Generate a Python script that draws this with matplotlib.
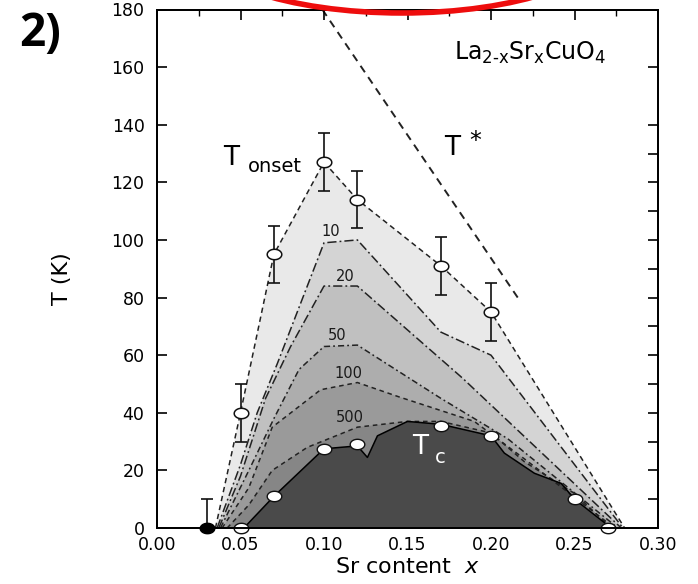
import numpy as np
import matplotlib
matplotlib.use('Agg')
import matplotlib.pyplot as plt
from matplotlib.patches import Ellipse
from matplotlib.path import Path

plt.rcParams['font.family'] = ['DejaVu Sans']

# ---------------- data ----------------
onset_x = [0.05, 0.07, 0.10, 0.12, 0.17, 0.20]
onset_T = [40, 95, 127, 114, 91, 75]
onset_err = [10, 10, 10, 10, 10, 10]

afm_x = [0.03]
afm_T = [0]
afm_err = [10]

tc_pts_x = [0.05, 0.07, 0.10, 0.12, 0.17, 0.20, 0.25, 0.27]
tc_pts_T = [0, 11, 27.5, 29, 35.5, 32, 10, 0]

tonset_x = [0.035, 0.05, 0.07, 0.10, 0.12, 0.17, 0.20, 0.28]
tonset_T = [0, 40, 95, 127, 114, 91, 75, 0]

c10_x = [0.036, 0.05, 0.06, 0.072, 0.10, 0.12, 0.17, 0.20, 0.279]
c10_T = [0, 22, 40, 57, 99, 100, 68, 60, 0]

c20_x = [0.037, 0.05, 0.065, 0.08, 0.10, 0.12, 0.183, 0.278]
c20_T = [0, 18, 45, 63, 84, 84, 52, 0]

c50_x = [0.038, 0.055, 0.07, 0.085, 0.10, 0.12, 0.17, 0.21, 0.276]
c50_T = [0, 20, 38, 55, 63, 63.5, 45, 31, 0]

c100_x = [0.039, 0.055, 0.069, 0.098, 0.12, 0.145, 0.19, 0.22, 0.274]
c100_T = [0, 14, 35, 48, 50.5, 45.5, 37, 24, 0]

c500_x = [0.042, 0.055, 0.069, 0.09, 0.12, 0.15, 0.17, 0.20, 0.22, 0.25, 0.272]
c500_T = [0, 8, 20, 28, 35, 37, 37, 33, 23, 12, 0]

tc_x = [0.052, 0.07, 0.10, 0.12, 0.126, 0.132, 0.15, 0.17, 0.20, 0.208, 0.226, 0.242, 0.25, 0.272]
tc_T = [0, 11, 27.5, 28.5, 24.5, 32, 37, 36, 32, 26, 19, 15.5, 10, 0]

tstar_x = [0.099, 0.216]
tstar_T = [180, 80]

contour_labels = ['10', '20', '50', '100', '500']
contour_label_x = [0.1042, 0.1126, 0.1078, 0.1144, 0.1156]
contour_label_T = [102.8, 87.2, 67.0, 53.8, 38.2]

xticks = [0.00, 0.05, 0.10, 0.15, 0.20, 0.25, 0.30]
xticklabels = ['0.00', '0.05', '0.10', '0.15', '0.20', '0.25', '0.30']
yticks = list(range(0, 181, 20))

# ---------------- figure ----------------
fig = plt.figure(figsize=(6.98, 5.84), dpi=100)
ax = fig.add_axes([157/698, 1-528/584, 501/698, 518.5/584])
ax.set_xlim(0, 0.30)
ax.set_ylim(0, 180)

fills = [
    (tonset_x, tonset_T, '#e9e9e9'),
    (c10_x, c10_T, '#d4d4d4'),
    (c20_x, c20_T, '#c0c0c0'),
    (c50_x, c50_T, '#adadad'),
    (c100_x, c100_T, '#9a9a9a'),
    (c500_x, c500_T, '#868686'),
    (tc_x, tc_T, '#4a4a4a'),
]
for i, (xs, ts, col) in enumerate(fills):
    ax.fill(xs, ts, color=col, lw=0, zorder=1 + i * 0.1)

lk = dict(color='#222222', lw=1.1, zorder=3)
ax.plot(tonset_x, tonset_T, linestyle=(0, (3.5, 2.5)), **lk)
ax.plot(c10_x, c10_T, linestyle=(0, (6, 2, 1.2, 2)), **lk)
ax.plot(c20_x, c20_T, linestyle=(0, (6, 2, 1.2, 2)), **lk)
ax.plot(c50_x, c50_T, linestyle=(0, (4, 2, 1.2, 2)), **lk)
ax.plot(c100_x, c100_T, linestyle=(0, (3, 2.5)), **lk)
ax.plot(c500_x, c500_T, linestyle=(0, (3, 2.5)), **lk)
ax.plot(tc_x, tc_T, color='black', lw=1.1, zorder=3)
ax.plot(tstar_x, tstar_T, color='#222222', lw=1.4, linestyle=(0, (4, 3)), zorder=3)

# elliptical marker
th = np.linspace(0, 2 * np.pi, 41)
ell = Path(np.column_stack([1.4 * np.cos(th), np.sin(th)]), closed=True)

ax.errorbar(onset_x, onset_T, yerr=onset_err, fmt='none', ecolor='#111111',
            elinewidth=1.2, capsize=4.5, capthick=1.2, zorder=4)
ax.plot(onset_x, onset_T, linestyle='none', marker=ell, markersize=10.5,
        mfc='white', mec='#111111', mew=1.1, zorder=5)
ax.errorbar(afm_x, afm_T, yerr=afm_err, fmt='none', ecolor='#111111',
            elinewidth=1.2, capsize=4.5, capthick=1.2, zorder=4)
ax.plot(afm_x, afm_T, linestyle='none', marker=ell, markersize=10.5,
        mfc='black', mec='black', zorder=6, clip_on=False)
ax.plot(tc_pts_x, tc_pts_T, linestyle='none', marker=ell, markersize=10.5,
        mfc='white', mec='#111111', mew=1.0, zorder=5, clip_on=False)

# text inside
for lab, lx, ly in zip(contour_labels, contour_label_x, contour_label_T):
    ax.text(lx, ly, lab, fontsize=10.5, ha='center', va='center', color='#1a1a1a', zorder=6)

ax.text(0.0443, 128.5, 'T', fontsize=19, ha='center', va='center', zorder=6)
ax.text(0.0707, 125.5, 'onset', fontsize=14, ha='center', va='center', zorder=6)
ax.text(0.1766, 132, 'T', fontsize=19, ha='center', va='center', zorder=6)
ax.text(0.1905, 134.5, '*', fontsize=17, ha='center', va='center', zorder=6)
ax.text(0.2234, 165, '$\\mathregular{La_{2\u2010x}Sr_xCuO_4}$', fontsize=17,
        ha='center', va='center', zorder=6)
ax.text(0.1575, 28.1, 'T', fontsize=19, ha='center', va='center', color='white', zorder=6)
ax.text(0.1695, 24.5, 'c', fontsize=14, ha='center', va='center', color='white', zorder=6)

# axes styling
for sp in ax.spines.values():
    sp.set_linewidth(1.2)
ax.set_xticks(xticks)
ax.set_xticklabels(xticklabels)
ax.set_yticks(yticks)
ax.tick_params(axis='x', bottom=True, length=0, pad=6, labelsize=12.5)
ax.tick_params(axis='y', left=True, direction='in', length=7, width=1.2, pad=9, labelsize=12.5)
ax.set_xlabel(r'Sr content  $x$', fontsize=16, labelpad=2)
ax.set_ylabel('T (K)', fontsize=16)
ax.yaxis.set_label_coords(-0.19, 0.48)
ax.yaxis.label.set_va('center')

axr = ax.twinx()
axr.set_ylim(0, 180)
axr.set_yticks(list(range(0, 141, 10)) + [160])
axr.tick_params(axis='y', direction='in', length=7, width=1.2, labelright=False)
axt = ax.twiny()
axt.set_xlim(0, 0.30)
axt.set_xticks(xticks)
axt.set_xticks(np.arange(0.025, 0.30, 0.05), minor=True)
axt.tick_params(axis='x', which='major', direction='in', length=7, width=1.2, labeltop=False)
axt.tick_params(axis='x', which='minor', direction='in', length=4, width=1.0)
for a in (axr, axt):
    for sp in a.spines.values():
        sp.set_linewidth(1.2)

# panel label and red annotation ellipse
fig.text(40/698, 1 - 34/584, '2)', fontsize=33, fontweight='bold', family='Open Sans',
         ha='center', va='center')
red = Ellipse((402, 584 + 60), width=420, height=146, transform=None,
              fill=False, edgecolor='#ee0d0d', lw=4, clip_on=False)
fig.add_artist(red)

fig.savefig('out.png', dpi=100)
